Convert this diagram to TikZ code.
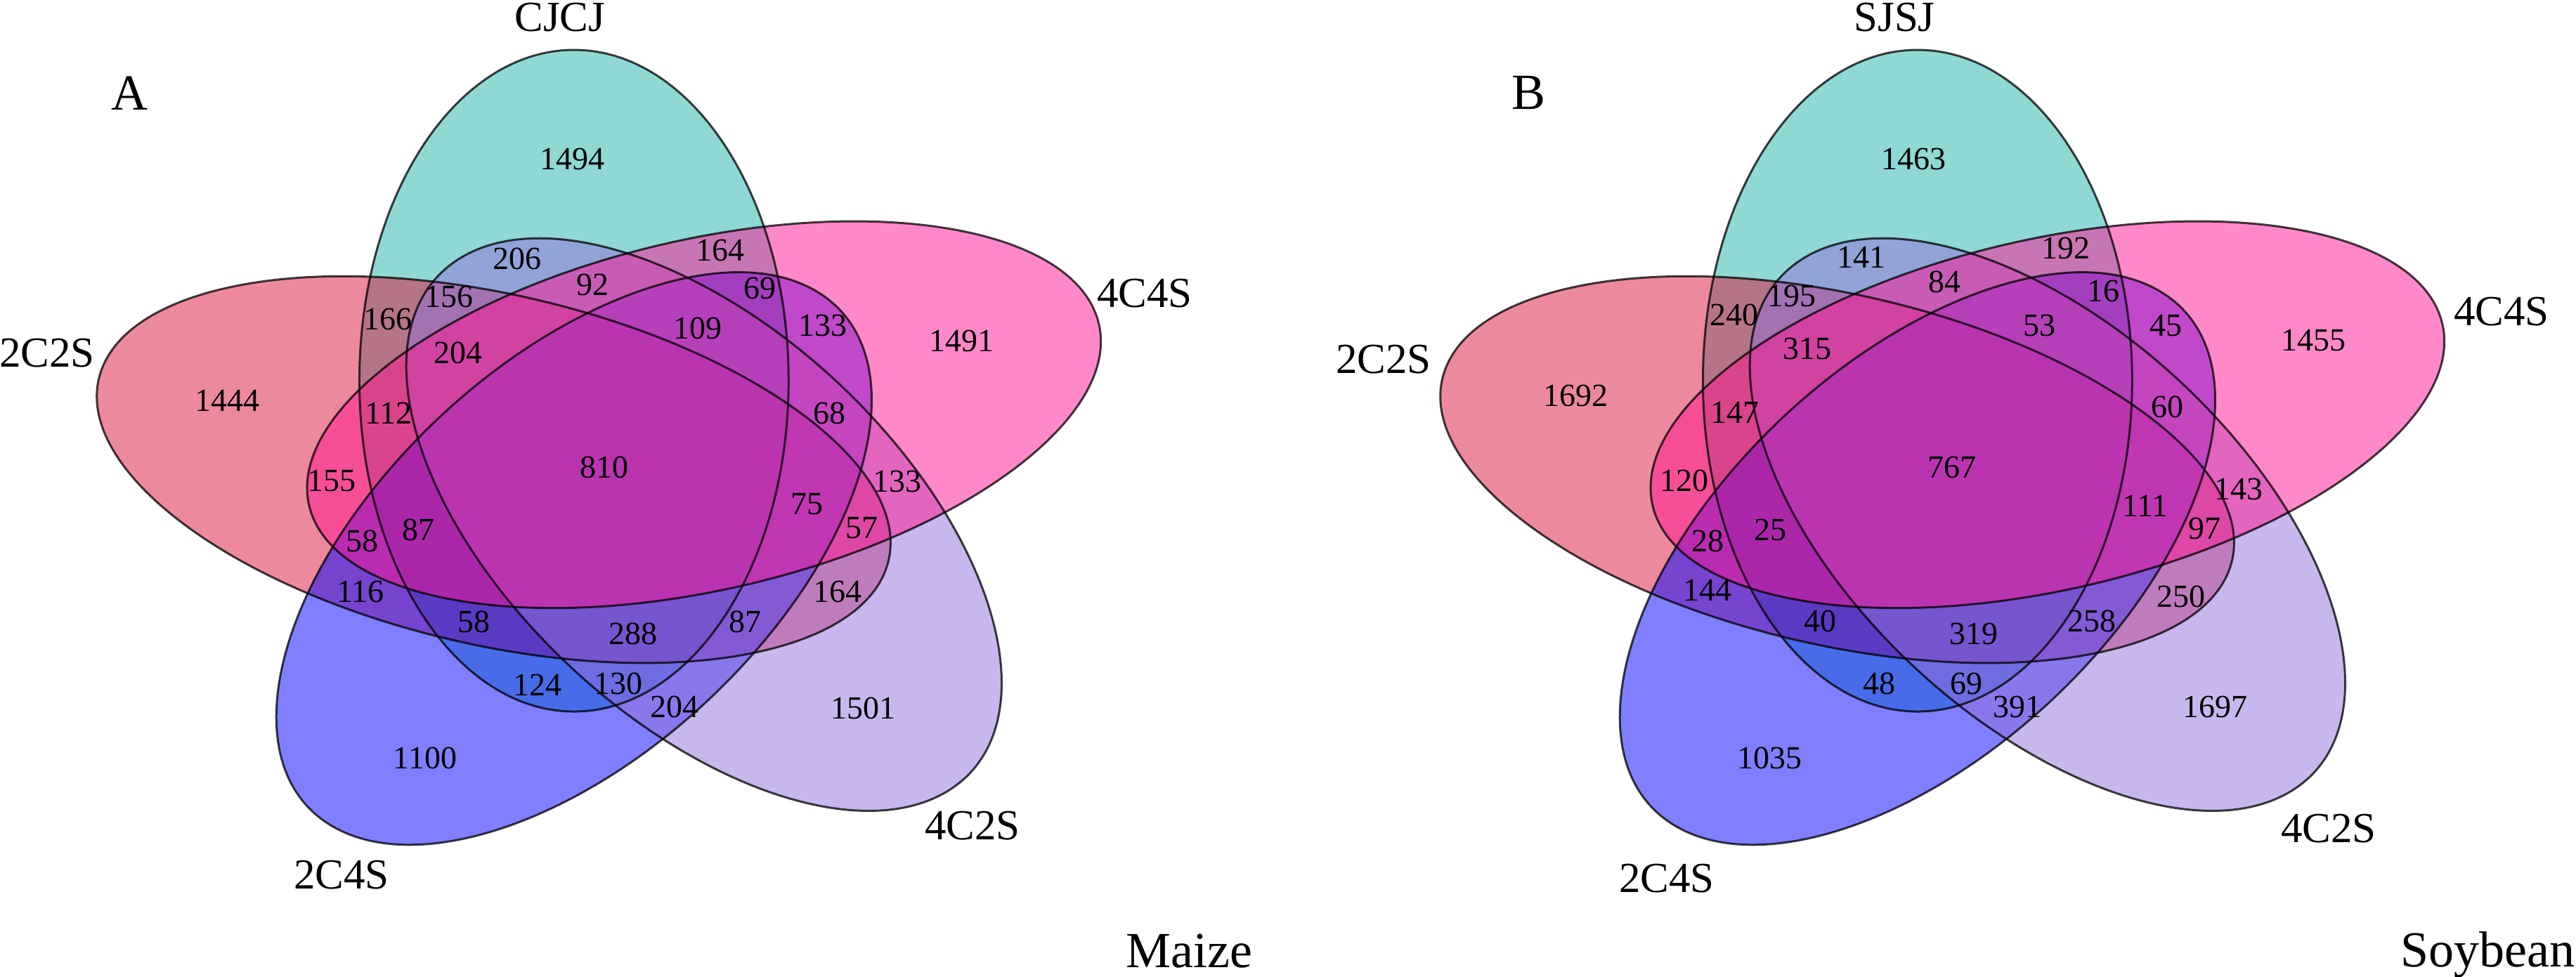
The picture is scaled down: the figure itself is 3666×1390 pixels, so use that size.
\documentclass[tikz,border=0pt]{standalone}
\usepackage{fontspec}
\setmainfont{Liberation Serif}
\definecolor{tealc}{RGB}{32,178,170}
\definecolor{redc}{RGB}{220,20,60}
\definecolor{bluec}{RGB}{0,0,255}
\definecolor{lavc}{RGB}{147,112,219}
\definecolor{pinkc}{RGB}{255,20,147}
% #1 = offset angle theta, #2 = axis angle psi, #3 = style
\newcommand\vennell[3]{%
  \path[#3, rotate around={-#2:({133.1*cos(#1)},{133.1*sin(#1)})}]
    ({133.1*cos(#1)},{133.1*sin(#1)}) ellipse [x radius=471, y radius=245.7];}
\newcommand\vennset{%
  \vennell{108}{90}{vfill=tealc}
  \vennell{180}{162}{vfill=redc}
  \vennell{252}{234}{vfill=bluec}
  \vennell{324}{306}{vfill=lavc}
  \vennell{36}{18}{vfill=pinkc}
  \vennell{108}{90}{vline}
  \vennell{180}{162}{vline}
  \vennell{252}{234}{vline}
  \vennell{324}{306}{vline}
  \vennell{36}{18}{vline}}
\begin{document}
\begin{tikzpicture}[x=0.2pt,y=-0.2pt,
  num/.style={inner sep=0pt, font=\fontsize{9.2}{9.2}\selectfont},
  cat/.style={inner sep=0pt, anchor=base, font=\fontsize{12.2}{12.2}\selectfont},
  big/.style={inner sep=0pt, anchor=base, font=\fontsize{14.4}{14.4}\selectfont},
  vfill/.style={fill=#1, fill opacity=0.5, draw=none},
  vline/.style={draw=black, draw opacity=0.75, line width=0.6pt}]
\useasboundingbox[fill=white] (0,0) rectangle (3666,1390);

% ---------- Panel A ----------
\begin{scope}[shift={(868,668.6)}, xscale=1.243, yscale=-1]
  \vennset
\end{scope}
\node[num] (a1494) at (814,226) {1494};
\node[num] (a206) at (736,368) {206};
\node[num] (a164t) at (1025,356) {164};
\node[num] (a92) at (843,405) {92};
\node[num] (a69) at (1081,410) {69};
\node[num] (a156) at (639,422) {156};
\node[num] (a166) at (552,454) {166};
\node[num] (a109) at (993,467) {109};
\node[num] (a133u) at (1171,463) {133};
\node[num] (a1491) at (1368,485) {1491};
\node[num] (a204u) at (652,502) {204};
\node[num] (a1444) at (323,570) {1444};
\node[num] (a112) at (553,588) {112};
\node[num] (a68) at (1180,588) {68};
\node[num] (a810) at (860,665) {810};
\node[num] (a155) at (472,685) {155};
\node[num] (a133r) at (1277,685) {133};
\node[num] (a75) at (1148,718) {75};
\node[num] (a57) at (1226,752) {57};
\node[num] (a87l) at (595,754) {87};
\node[num] (a58l) at (515,770) {58};
\node[num] (a116) at (513,842) {116};
\node[num] (a164r) at (1192,842) {164};
\node[num] (a58b) at (674,885) {58};
\node[num] (a87r) at (1060,885) {87};
\node[num] (a288) at (901,902) {288};
\node[num] (a124) at (765,975) {124};
\node[num] (a130) at (880,973) {130};
\node[num] (a204b) at (960,1006) {204};
\node[num] (a1501) at (1228,1008) {1501};
\node[num] (a1100) at (605,1079) {1100};
\node[cat] (aCJCJ) at (797,44) {CJCJ};
\node[cat] (a4C4S) at (1629,437) {4C4S};
\node[cat] (a4C2S) at (1384,1195) {4C2S};
\node[cat] (a2C4S) at (486,1265) {2C4S};
\node[cat] (a2C2S) at (67,522) {2C2S};
\node[big] (aA) at (184,156) {A};
\node[big] (aMaize) at (1692,1377) {Maize};

% ---------- Panel B ----------
\begin{scope}[shift={(2780,668.6)}, xscale=1.243, yscale=-1]
  \vennset
\end{scope}
\node[num] (b1463) at (2723,226) {1463};
\node[num] (b141) at (2649,366) {141};
\node[num] (b192) at (2940,353) {192};
\node[num] (b84) at (2767,401) {84};
\node[num] (b16) at (2993,414) {16};
\node[num] (b195) at (2550,421) {195};
\node[num] (b240) at (2468,448) {240};
\node[num] (b53) at (2902,463) {53};
\node[num] (b45) at (3082,464) {45};
\node[num] (b1455) at (3292,485) {1455};
\node[num] (b315) at (2572,496) {315};
\node[num] (b1692) at (2242,563) {1692};
\node[num] (b147) at (2469,587) {147};
\node[num] (b60) at (3084,579) {60};
\node[num] (b767) at (2778,665) {767};
\node[num] (b120) at (2397,684) {120};
\node[num] (b143) at (3186,696) {143};
\node[num] (b111) at (3053,720) {111};
\node[num] (b97) at (3137,752) {97};
\node[num] (b25) at (2519,754) {25};
\node[num] (b28) at (2430,770) {28};
\node[num] (b144) at (2430,840) {144};
\node[num] (b250) at (3104,849) {250};
\node[num] (b40) at (2590,884) {40};
\node[num] (b258) at (2977,884) {258};
\node[num] (b319) at (2809,902) {319};
\node[num] (b48) at (2674,973) {48};
\node[num] (b69) at (2798,973) {69};
\node[num] (b391) at (2871,1006) {391};
\node[num] (b1697) at (3152,1006) {1697};
\node[num] (b1035) at (2518,1079) {1035};
\node[cat] (bSJSJ) at (2696,44) {SJSJ};
\node[cat] (b4C4S) at (3560,463) {4C4S};
\node[cat] (b4C2S) at (3314,1199) {4C2S};
\node[cat] (b2C4S) at (2372,1270) {2C4S};
\node[cat] (b2C2S) at (1969,531) {2C2S};
\node[big] (bB) at (2175,155) {B};
\node[big] (bSoy) at (3540,1376) {Soybean};
\end{tikzpicture}
\end{document}
